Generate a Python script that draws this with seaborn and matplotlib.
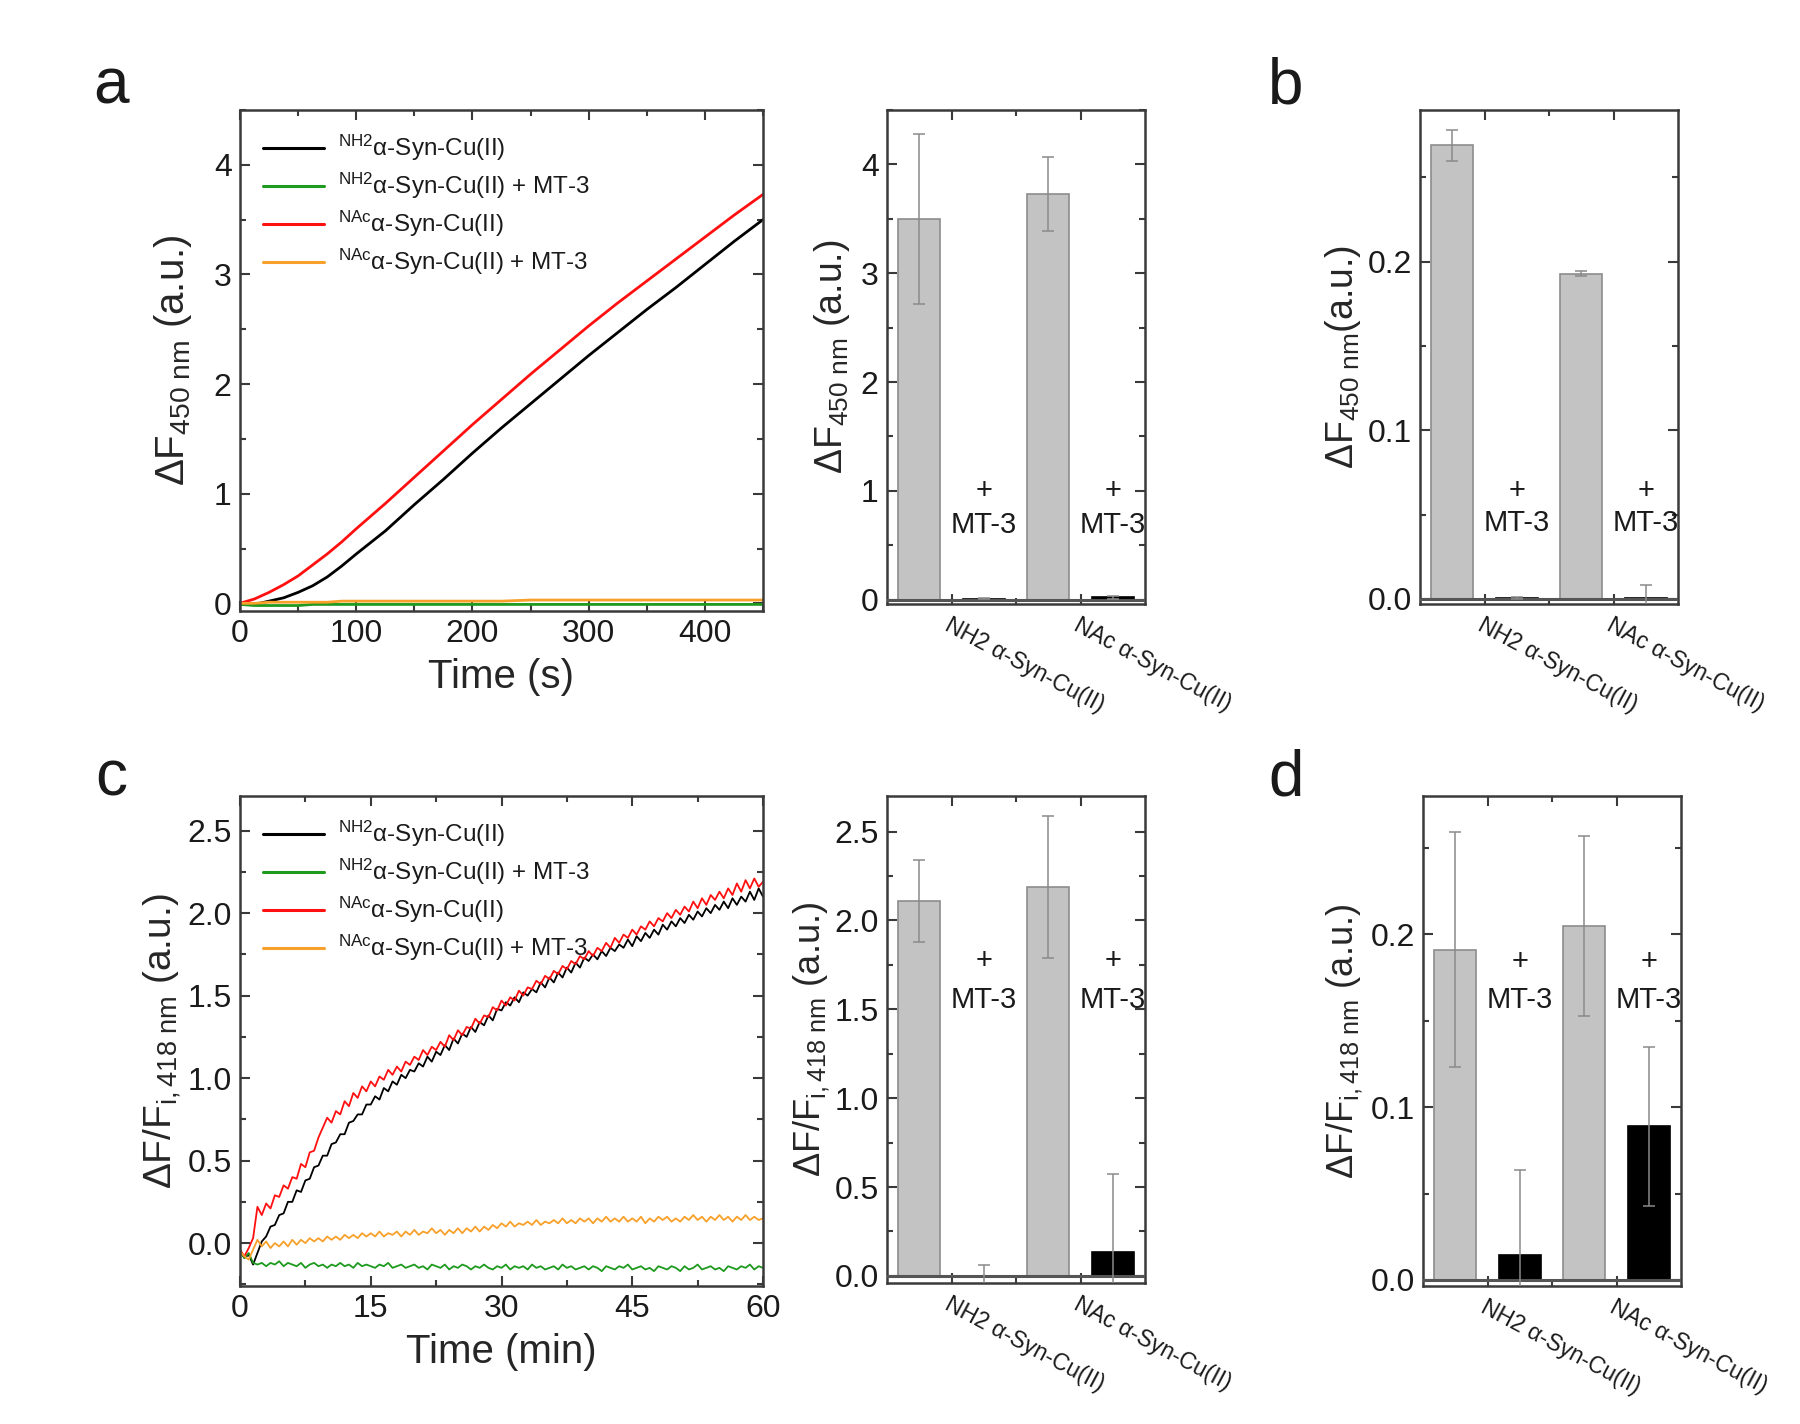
import numpy as np
import pandas as pd
import matplotlib
matplotlib.use("Agg")
from matplotlib import pyplot as plt
from matplotlib.ticker import MultipleLocator
import seaborn as sns

# ---- panel a: kinetics (time in s)
time_a = [0, 12.5, 25, 37.5, 50, 62.5, 75, 87.5, 100, 125, 150, 175, 200, 225, 250, 275, 300, 325, 350, 375, 400, 425, 450]
black_a = [-0.01, -0.01, 0.02, 0.05, 0.10, 0.16, 0.24, 0.34, 0.45, 0.66, 0.90, 1.13, 1.37, 1.60, 1.82, 2.04, 2.26, 2.47, 2.68, 2.88, 3.09, 3.30, 3.50]
green_a = [-0.01, -0.02, -0.02, -0.02, -0.02, -0.01, -0.01, -0.01, -0.01, -0.01, -0.01, -0.01, -0.01, -0.01, -0.01, -0.01, -0.01, -0.01, -0.01, -0.01, -0.01, -0.01, -0.01]
red_a = [0.00, 0.04, 0.10, 0.17, 0.25, 0.35, 0.45, 0.56, 0.68, 0.91, 1.15, 1.39, 1.63, 1.86, 2.09, 2.31, 2.53, 2.74, 2.94, 3.14, 3.34, 3.54, 3.73]
orange_a = [0.00, 0.00, 0.01, 0.01, 0.01, 0.01, 0.01, 0.02, 0.02, 0.02, 0.02, 0.02, 0.02, 0.02, 0.03, 0.03, 0.03, 0.03, 0.03, 0.03, 0.03, 0.03, 0.03]

# ---- panel c: kinetics (one reading every 0.5 min, 0..60 min)
black_c = [-0.05, -0.09, -0.07, -0.13, -0.06, 0.01, 0.04, 0.10, 0.11, 0.17,
           0.18, 0.25, 0.25, 0.32, 0.31, 0.38, 0.39, 0.46, 0.47, 0.53,
           0.53, 0.60, 0.61, 0.66, 0.66, 0.73, 0.74, 0.78, 0.78, 0.84,
           0.84, 0.89, 0.87, 0.94, 0.92, 0.98, 0.96, 1.02, 1.00, 1.05,
           1.04, 1.09, 1.07, 1.13, 1.10, 1.16, 1.14, 1.20, 1.17, 1.24,
           1.21, 1.27, 1.25, 1.31, 1.28, 1.34, 1.32, 1.38, 1.35, 1.42,
           1.41, 1.46, 1.44, 1.49, 1.46, 1.52, 1.50, 1.54, 1.52, 1.58,
           1.55, 1.61, 1.58, 1.64, 1.61, 1.67, 1.64, 1.70, 1.67, 1.73,
           1.71, 1.75, 1.72, 1.77, 1.74, 1.79, 1.77, 1.81, 1.79, 1.84,
           1.80, 1.86, 1.83, 1.88, 1.85, 1.90, 1.87, 1.93, 1.90, 1.95,
           1.92, 1.97, 1.94, 1.99, 1.96, 2.01, 1.98, 2.03, 2.00, 2.05,
           2.02, 2.07, 2.03, 2.09, 2.05, 2.10, 2.07, 2.13, 2.08, 2.15,
           2.10]
green_c = [-0.05, -0.09, -0.06, -0.12, -0.13, -0.12, -0.14, -0.12, -0.13, -0.11,
           -0.14, -0.12, -0.13, -0.14, -0.12, -0.15, -0.13, -0.12, -0.14, -0.13,
           -0.15, -0.13, -0.14, -0.12, -0.14, -0.13, -0.15, -0.12, -0.14, -0.13,
           -0.14, -0.15, -0.13, -0.14, -0.12, -0.15, -0.14, -0.13, -0.15, -0.14,
           -0.13, -0.15, -0.14, -0.16, -0.13, -0.14, -0.15, -0.13, -0.16, -0.14,
           -0.15, -0.13, -0.14, -0.16, -0.14, -0.15, -0.13, -0.15, -0.16, -0.14,
           -0.15, -0.13, -0.16, -0.14, -0.15, -0.14, -0.16, -0.13, -0.15, -0.14,
           -0.16, -0.15, -0.14, -0.16, -0.13, -0.15, -0.14, -0.16, -0.15, -0.14,
           -0.16, -0.14, -0.15, -0.17, -0.14, -0.15, -0.16, -0.14, -0.15, -0.13,
           -0.16, -0.15, -0.14, -0.16, -0.15, -0.17, -0.14, -0.15, -0.16, -0.14,
           -0.15, -0.17, -0.14, -0.16, -0.15, -0.13, -0.16, -0.15, -0.14, -0.16,
           -0.15, -0.17, -0.14, -0.15, -0.16, -0.14, -0.15, -0.13, -0.16, -0.14,
           -0.15]
red_c = [-0.04, -0.08, -0.03, 0.03, 0.22, 0.17, 0.24, 0.21, 0.29, 0.28,
         0.35, 0.33, 0.40, 0.39, 0.48, 0.46, 0.55, 0.56, 0.64, 0.70,
         0.76, 0.73, 0.80, 0.78, 0.86, 0.83, 0.91, 0.88, 0.95, 0.92,
         0.98, 0.95, 1.01, 0.99, 1.05, 1.02, 1.07, 1.04, 1.10, 1.08,
         1.13, 1.11, 1.17, 1.14, 1.19, 1.17, 1.22, 1.19, 1.26, 1.23,
         1.29, 1.26, 1.31, 1.30, 1.36, 1.33, 1.38, 1.37, 1.43, 1.41,
         1.47, 1.44, 1.49, 1.47, 1.53, 1.50, 1.55, 1.54, 1.59, 1.57,
         1.62, 1.60, 1.65, 1.63, 1.68, 1.66, 1.71, 1.69, 1.74, 1.72,
         1.77, 1.74, 1.79, 1.77, 1.82, 1.79, 1.85, 1.82, 1.87, 1.85,
         1.90, 1.87, 1.92, 1.90, 1.95, 1.92, 1.97, 1.95, 2.00, 1.97,
         2.02, 1.99, 2.04, 2.01, 2.07, 2.03, 2.09, 2.05, 2.11, 2.08,
         2.13, 2.09, 2.15, 2.11, 2.18, 2.13, 2.20, 2.15, 2.21, 2.16,
         2.19]
orange_c = [-0.05, -0.08, -0.10, -0.04, 0.02, -0.02, 0.01, -0.03, 0.00, -0.02,
            0.01, -0.02, 0.02, -0.01, 0.02, 0.00, 0.03, 0.01, 0.03, 0.01,
            0.04, 0.02, 0.04, 0.02, 0.05, 0.03, 0.05, 0.03, 0.06, 0.04,
            0.06, 0.04, 0.07, 0.04, 0.06, 0.05, 0.07, 0.04, 0.07, 0.05,
            0.08, 0.05, 0.07, 0.06, 0.09, 0.06, 0.08, 0.05, 0.08, 0.06,
            0.09, 0.06, 0.09, 0.07, 0.10, 0.07, 0.10, 0.08, 0.11, 0.09,
            0.12, 0.10, 0.13, 0.10, 0.12, 0.11, 0.13, 0.11, 0.14, 0.11,
            0.13, 0.12, 0.14, 0.12, 0.15, 0.12, 0.14, 0.12, 0.15, 0.13,
            0.15, 0.12, 0.15, 0.13, 0.16, 0.13, 0.15, 0.13, 0.16, 0.13,
            0.15, 0.13, 0.16, 0.12, 0.15, 0.13, 0.16, 0.14, 0.16, 0.13,
            0.15, 0.13, 0.16, 0.14, 0.17, 0.14, 0.16, 0.13, 0.16, 0.14,
            0.17, 0.14, 0.16, 0.13, 0.16, 0.14, 0.17, 0.14, 0.16, 0.14,
            0.15]
time_c = np.linspace(0, 60, len(black_c))

# ---- bar panels
conditions = ["NH2", "NH2 + MT-3", "NAc", "NAc + MT-3"]
groups = ["NH2 α-Syn-Cu(II)", "NAc α-Syn-Cu(II)"]
a_bar = [3.50, 0.01, 3.73, 0.02]
a_err = [0.78, 0.005, 0.34, 0.01]
b_bar = [0.269, 0.0005, 0.193, 0.0005]
b_err = [0.009, 0.0005, 0.0015, 0.008]
c_bar = [2.11, 0.0, 2.19, 0.135]
c_err = [0.23, 0.06, 0.40, 0.44]
d_bar = [0.191, 0.0146, 0.205, 0.089]
d_err = [0.068, 0.049, 0.052, 0.046]

legend_labels = ["$^{NH2}$α-Syn-Cu(II)", "$^{NH2}$α-Syn-Cu(II) + MT-3",
                 "$^{NAc}$α-Syn-Cu(II)", "$^{NAc}$α-Syn-Cu(II) + MT-3"]
line_colors = ["#000000", "#1e9a1e", "#ff1010", "#f7a02a"]

sns.set_theme(style="ticks")
plt.rcParams["font.family"] = ["Liberation Sans", "DejaVu Sans"]
plt.rcParams["mathtext.fontset"] = "custom"
plt.rcParams["mathtext.rm"] = "Liberation Sans"
plt.rcParams["mathtext.it"] = "Liberation Sans:italic"
plt.rcParams["mathtext.default"] = "regular"
plt.rcParams["text.color"] = "#1a1a1a"

fig = plt.figure(figsize=(18, 14.24), dpi=100)
W, H = 1800, 1424


def box(l, t, r, b):
    return fig.add_axes([l / W, 1 - b / H, (r - l) / W, (b - t) / H])


def style(ax):
    for s in ax.spines.values():
        s.set_color("#3a3a3a")
        s.set_linewidth(1.8)
    ax.tick_params(which="both", direction="in", top=True, right=True,
                   color="#3a3a3a", width=1.5, labelcolor="#1a1a1a")
    ax.tick_params(which="major", length=7, labelsize=23, pad=6)
    ax.tick_params(which="minor", length=4)


def line_panel(ax, t, series, lw):
    for vals, col, lab in zip(series, line_colors, legend_labels):
        sns.lineplot(x=t, y=vals, color=col, lw=lw, ax=ax, label=lab)
    leg = ax.legend(loc="upper left", frameon=False, fontsize=17.5, handlelength=2.5,
                    borderaxespad=0.55, labelspacing=0.32, handletextpad=0.6)
    for h in leg.get_lines():
        h.set_linewidth(2.2)
    style(ax)


def bar_panel(ax, vals, errs, ylim, major, minor, plus_y, mt_y, ylabel, pad, lsize=27):
    sns.barplot(x=conditions, y=vals, hue=conditions, order=conditions,
                palette=["#c3c3c3", "#000000", "#c3c3c3", "#000000"],
                width=0.65, legend=False, ax=ax, saturation=1)
    for p, ec in zip(ax.patches, ["#8c8c8c", "#000000", "#8c8c8c", "#000000"]):
        p.set_edgecolor(ec)
        p.set_linewidth(1.2)
    ax.errorbar(range(4), vals, yerr=errs, fmt="none", ecolor="#8a8a8a",
                elinewidth=1.1, capsize=4, capthick=1.1, zorder=5)
    ax.axhline(0, color="#555555", lw=2.2, zorder=4)
    ax.set_xlim(-0.5, 3.5)
    ax.set_ylim(*ylim)
    ax.yaxis.set_major_locator(MultipleLocator(major))
    ax.yaxis.set_minor_locator(MultipleLocator(minor))
    ax.set_xticks([0.5, 2.5])
    ax.set_xticks([1.5], minor=True)
    ax.set_xticklabels(groups, rotation=-28, ha="left", rotation_mode="anchor")
    ax.set_xlabel("")
    ax.set_ylabel(ylabel, fontsize=lsize, labelpad=pad)
    for x in [1, 3]:
        ax.text(x, plus_y, "+", ha="center", va="center", fontsize=21)
        ax.text(x, mt_y, "MT-3", ha="center", va="center", fontsize=21)
    style(ax)
    ax.tick_params(axis="x", which="both", labelsize=16.5, pad=7)


# panel a
ax = box(240, 110, 763, 611)
line_panel(ax, time_a, [black_a, green_a, red_a, orange_a], 2.0)
ax.set_xlim(0, 450)
ax.set_ylim(-0.07, 4.5)
ax.xaxis.set_major_locator(MultipleLocator(100))
ax.xaxis.set_minor_locator(MultipleLocator(50))
ax.yaxis.set_major_locator(MultipleLocator(1))
ax.yaxis.set_minor_locator(MultipleLocator(0.5))
ax.set_xlabel("Time (s)", fontsize=29, labelpad=6)
ax.set_ylabel("ΔF$_{450\\ nm}$ (a.u.)", fontsize=29, labelpad=14)

ax = box(887, 110, 1145, 604)
bar_panel(ax, a_bar, a_err, (-0.04, 4.5), 1, 0.5, 1.0, 0.69, "ΔF$_{450\\ nm}$ (a.u.)", 6)

ax = box(1420, 110, 1678, 604)
bar_panel(ax, b_bar, b_err, (-0.003, 0.29), 0.1, 0.05, 0.064, 0.045, "ΔF$_{450\\ nm}$(a.u.)", 3)

# panel c
ax = box(240, 796, 763, 1286)
line_panel(ax, time_c, [black_c, green_c, red_c, orange_c], 1.3)
ax.set_xlim(0, 60)
ax.set_ylim(-0.26, 2.71)
ax.xaxis.set_major_locator(MultipleLocator(15))
ax.xaxis.set_minor_locator(MultipleLocator(7.5))
ax.yaxis.set_major_locator(MultipleLocator(0.5))
ax.yaxis.set_minor_locator(MultipleLocator(0.25))
ax.set_xlabel("Time (min)", fontsize=29, labelpad=6)
ax.set_ylabel("ΔF/F$_{i,418\\ nm}$ (a.u.)", fontsize=28, labelpad=3)

ax = box(887, 796, 1145, 1283)
bar_panel(ax, c_bar, c_err, (-0.04, 2.7), 0.5, 0.25, 1.77, 1.55, "ΔF/F$_{i,418\\ nm}$ (a.u.)", 2, 26)

ax = box(1423, 796, 1681, 1286)
bar_panel(ax, d_bar, d_err, (-0.0035, 0.28), 0.1, 0.05, 0.184, 0.162, "ΔF/F$_{i,418\\ nm}$ (a.u.)", 4, 26)

for letter, x, y in [("a", 111, 86), ("b", 1286, 86), ("c", 111, 778), ("d", 1286, 778)]:
    fig.text(x / W, 1 - y / H, letter, fontsize=46, ha="center", va="center")

fig.savefig("out.png", dpi=100)
